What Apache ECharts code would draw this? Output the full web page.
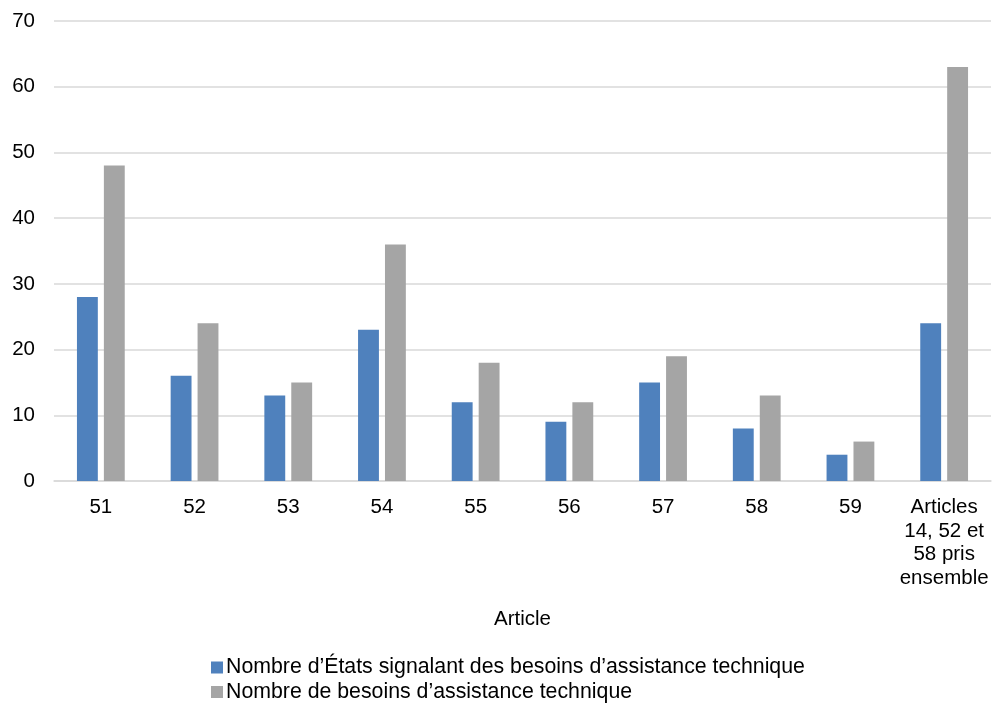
<!DOCTYPE html>
<html>
<head>
<meta charset="utf-8">
<script src="https://cdn.jsdelivr.net/npm/echarts@6/dist/echarts.min.js"></script>
<style>
  html, body { margin: 0; padding: 0; background: #fff; }
  #chart { width: 992px; height: 708px; }
</style>
</head>
<body>
<div id="chart"></div>
<script>
// Categories (articles) and the two series
const categories = ['51', '52', '53', '54', '55', '56', '57', '58', '59', 'Articles\n14, 52 et\n58 pris\nensemble'];
const statesReporting = [28, 16, 13, 23, 12, 9, 15, 8, 4, 24];
const assistanceNeeds = [48, 24, 15, 36, 18, 12, 19, 13, 6, 63];
const seriesNames = [
  'Nombre d\u2019États signalant des besoins d\u2019assistance technique',
  'Nombre de besoins d\u2019assistance technique'
];
const yTicks = { min: 0, max: 70, interval: 10 };

const font = '"Liberation Sans", Arial, sans-serif';
const fs = 20.5;

// One legend block per series, stacked one above the other
function legendRow(name, top) {
  return {
    orient: 'horizontal',
    left: 211,
    top: top,
    padding: 0,
    itemWidth: 12,
    itemHeight: 12,
    icon: 'rect',
    textStyle: { fontFamily: font, fontSize: 21.3, color: '#000', padding: [0, 0, 0, -2] },
    data: [name]
  };
}

const chart = echarts.init(document.getElementById('chart'));
chart.setOption({
  animation: false,
  textStyle: { fontFamily: font },
  grid: { left: 54, right: 1, top: 21, bottom: 227, containLabel: false },
  legend: [legendRow(seriesNames[0], 657), legendRow(seriesNames[1], 681.5)],
  xAxis: {
    type: 'category',
    data: categories,
    name: 'Article',
    nameLocation: 'middle',
    nameGap: 128,
    nameTextStyle: { fontFamily: font, fontSize: fs, color: '#000' },
    axisLine: { lineStyle: { color: '#d9d9d9', width: 1.5 } },
    axisTick: { show: false },
    axisLabel: { fontFamily: font, fontSize: fs, color: '#000', lineHeight: 23.5, margin: 15, interval: 0 }
  },
  yAxis: {
    type: 'value',
    min: yTicks.min,
    max: yTicks.max,
    interval: yTicks.interval,
    axisLine: { show: false },
    axisTick: { show: false },
    axisLabel: { fontFamily: font, fontSize: fs, color: '#000', margin: 19 },
    splitLine: { lineStyle: { color: '#d9d9d9', width: 1.5 } }
  },
  series: [
    {
      name: seriesNames[0],
      type: 'bar',
      data: statesReporting,
      itemStyle: { color: '#4f81bd' },
      barGap: '29%',
      barCategoryGap: '49%'
    },
    {
      name: seriesNames[1],
      type: 'bar',
      data: assistanceNeeds,
      itemStyle: { color: '#a5a5a5' },
      barGap: '29%',
      barCategoryGap: '49%'
    }
  ]
});
</script>
</body>
</html>
